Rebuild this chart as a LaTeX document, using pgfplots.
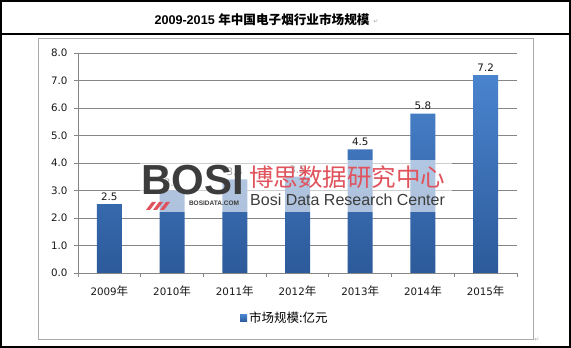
\documentclass[border=0pt]{standalone}
\usepackage{pgfplots}
\pgfplotsset{compat=1.18}
\usepackage{fontspec}
\setmainfont{DejaVu Sans}
\newfontfamily\cjk{Noto Sans CJK SC}
\newfontfamily\lib{Liberation Sans}
\definecolor{barTop}{HTML}{4A84CE}
\definecolor{barBot}{HTML}{2C5A9A}
\definecolor{gridc}{HTML}{868686}
\definecolor{wmred}{HTML}{E0525C}
\definecolor{wmgray}{HTML}{3C3C3C}
\begin{document}
\begin{tikzpicture}[x=1pt,y=1pt]
\useasboundingbox (0,0) rectangle (571,348);
\fill[white] (0,0) rectangle (571,348);
\draw[line width=2.2pt] (1.1,1.1) rectangle (569.9,346.9);
\draw[line width=1.2pt] (1,314) -- (570,314);
\node[inner sep=0pt] at (262,328) {\fontsize{12.6}{14}\selectfont\bfseries\lib 2009-2015 \cjk 年中国电子烟行业市场规模};
\node[inner sep=0pt, text=gray!70] at (376,326) {\fontsize{6}{6}\selectfont ↵};
\draw[gridc!70, line width=0.8pt] (38,9) rectangle (533,310);
\begin{axis}[
  at={(78pt,75pt)}, anchor=south west,
  scale only axis, width=439pt, height=220pt,
  xmin=-0.5, xmax=6.5, ymin=0, ymax=8,
  xtick={0,...,6},
  xticklabels={2009{\cjk\fontsize{11.5}{12}\selectfont 年},2010{\cjk\fontsize{11.5}{12}\selectfont 年},2011{\cjk\fontsize{11.5}{12}\selectfont 年},2012{\cjk\fontsize{11.5}{12}\selectfont 年},2013{\cjk\fontsize{11.5}{12}\selectfont 年},2014{\cjk\fontsize{11.5}{12}\selectfont 年},2015{\cjk\fontsize{11.5}{12}\selectfont 年}},
  minor xtick={-0.5,0.5,...,6.5},
  ytick={0,1,...,8},
  yticklabel style={/pgf/number format/.cd, fixed, fixed zerofill, precision=1, /tikz/.cd, xshift=-3pt},
  /pgf/number format/assume math mode=true,
  ticklabel style={font=\fontsize{10.3}{12}\selectfont, text=black!90},
  ymajorgrids, grid style={gridc, line width=0.8pt},
  axis x line*=bottom, axis y line*=left,
  axis line style={gridc, line width=0.8pt, -},
  tick align=outside, major tick length=4pt, minor tick length=4pt,
  major x tick style={draw=none},
  minor x tick style={gridc, line width=0.8pt},
  ytick style={gridc, line width=0.8pt},
  xticklabel style={yshift=-5pt},
  legend style={at={(0.369,-0.205)}, anchor=west, draw=none, fill=none, inner sep=0pt,
     font=\cjk\fontsize{12.5}{13}\selectfont},
  legend image code/.code={\fill[barBot!85!barTop] (0pt,-3.5pt) rectangle (7pt,3.5pt);},
  nodes near coords,
  nodes near coords style={font=\fontsize{10.3}{12}\selectfont, text=black!90,
     /pgf/number format/.cd, fixed, fixed zerofill, precision=1, assume math mode=true},
]
\addplot[ybar, bar width=25pt, draw=none, top color=barTop, bottom color=barBot]
  coordinates {(0,2.5) (1,3.0) (2,3.4) (3,3.5) (4,4.5) (5,5.8) (6,7.2)};
\addlegendentry{市场规模:亿元}
\end{axis}
% watermark
\fill[white, opacity=0.6] (140,136) rectangle (452,188);
\node[inner sep=0pt, text=wmgray, anchor=west] at (141,168) {\fontsize{42}{42}\selectfont\bfseries\lib BOSI};
\node[inner sep=0pt, text=wmgray] at (214,145) {\fontsize{6.5}{7}\selectfont\bfseries\lib BOSIDATA.COM};
\foreach \i in {0,1,2}{\fill[wmred] (146+\i*7,138) -- (150+\i*7,138) -- (156+\i*7,146) -- (152+\i*7,146) -- cycle;}
\node[inner sep=0pt, text=wmred, anchor=west] at (249,171) {\cjk\fontsize{24.5}{25}\selectfont 博思数据研究中心};
\node[inner sep=0pt, text=wmgray, anchor=west] at (250,148) {\fontsize{16}{17}\selectfont\lib Bosi Data Research Center};
\node[inner sep=0pt, text=gray!70] at (537,8) {\fontsize{6}{6}\selectfont ↵};
\end{tikzpicture}
\end{document}
